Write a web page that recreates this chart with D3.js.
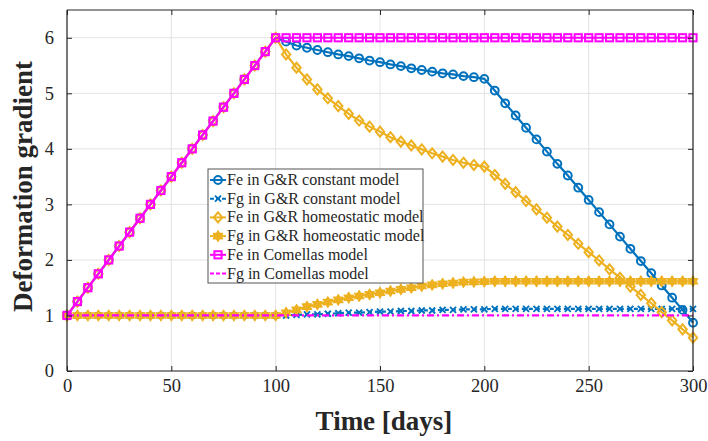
<!DOCTYPE html>
<html><head><meta charset="utf-8">
<script src="https://cdn.jsdelivr.net/npm/d3@7"></script>
<style>body{margin:0;background:#fff}svg{display:block}svg text{font-family:'Liberation Serif','Times New Roman',serif}</style>
</head><body><svg id="c" width="708" height="441"></svg>
<script>
// ---- data ----
const days = [0,5,10,15,20,25,30,35,40,45,50,55,60,65,70,75,80,85,90,95,100,
  105,110,115,120,125,130,135,140,145,150,155,160,165,170,175,180,185,190,195,200,
  205,210,215,220,225,230,235,240,245,250,255,260,265,270,275,280,285,290,295,300];
const ramp = [1,1.25,1.5,1.75,2,2.25,2.5,2.75,3,3.25,3.5,3.75,4,4.25,4.5,4.75,5,5.25,5.5,5.75,6];
const feConstant = ramp.concat([5.93,5.86,5.82,5.78,5.74,5.70,5.67,5.63,5.59,5.56,
  5.52,5.49,5.45,5.42,5.39,5.36,5.34,5.31,5.29,5.26,
  5.05,4.82,4.60,4.38,4.17,3.95,3.73,3.52,3.30,3.08,2.86,2.64,2.42,2.20,1.98,1.76,1.54,1.32,1.10,0.87]);
const fgConstant = [1,1,1,1,1,1,1,1,1,1,1,1,1,1,1,1,1,1,1,1,1,
  1.00,1.01,1.02,1.02,1.03,1.04,1.05,1.05,1.06,1.07,
  1.07,1.08,1.08,1.09,1.09,1.10,1.10,1.11,1.11,1.11,
  1.12,1.12,1.12,1.12,1.12,1.12,1.12,1.12,1.12,1.12,1.12,1.12,1.12,1.12,1.12,1.12,1.12,1.12,1.12,1.12];
const feHomeo = ramp.concat([5.70,5.46,5.25,5.07,4.91,4.77,4.63,4.51,4.40,4.31,
  4.21,4.13,4.06,3.99,3.92,3.86,3.80,3.75,3.71,3.68,
  3.53,3.37,3.22,3.06,2.91,2.76,2.60,2.45,2.29,2.14,1.99,1.83,1.68,1.52,1.37,1.22,1.06,0.91,0.75,0.60]);
const fgHomeo = [1,1,1,1,1,1,1,1,1,1,1,1,1,1,1,1,1,1,1,1,1,
  1.05,1.10,1.16,1.20,1.24,1.28,1.32,1.35,1.38,1.41,
  1.44,1.47,1.50,1.53,1.55,1.57,1.585,1.60,1.605,1.61,
  1.615,1.615,1.615,1.615,1.615,1.615,1.615,1.615,1.615,1.615,1.615,1.615,1.615,1.615,1.615,1.615,1.615,1.615,1.615,1.615];
const feComellas = ramp.concat([6,6,6,6,6,6,6,6,6,6,6,6,6,6,6,6,6,6,6,6,
  6,6,6,6,6,6,6,6,6,6,6,6,6,6,6,6,6,6,6,6]);
const fgComellas = [1,1,1,1,1,1,1,1,1,1,1,1,1,1,1,1,1,1,1,1,1,
  1,1,1,1,1,1,1,1,1,1,1,1,1,1,1,1,1,1,1,1,
  1,1,1,1,1,1,1,1,1,1,1,1,1,1,1,1,1,1,1,1];
const seriesNames = ["Fe in G&R constant model","Fg in G&R constant model","Fe in G&R homeostatic model",
  "Fg in G&R homeostatic model","Fe in Comellas model","Fg in Comellas model"];
const xTicks = [0,50,100,150,200,250,300];
const yTicks = [0,1,2,3,4,5,6];
const xLabel = "Time [days]";
const yLabel = "Deformation gradient";

// ---- styles ----
const BLUE="#0072BD", YEL="#EDB120", MAG="#FF00FF";
const series = [
  {name:seriesNames[0], v:feConstant, color:BLUE, marker:"circle", dash:null},
  {name:seriesNames[1], v:fgConstant, color:BLUE, marker:"x", dash:"4,3"},
  {name:seriesNames[2], v:feHomeo, color:YEL, marker:"diamond", dash:null},
  {name:seriesNames[3], v:fgHomeo, color:YEL, marker:"hexagram", dash:null},
  {name:seriesNames[4], v:feComellas, color:MAG, marker:"square", dash:null},
  {name:seriesNames[5], v:fgComellas, color:MAG, marker:null, dash:"7,3,2,3"}
];

const svg = d3.select("#c");
const FONT = "'Liberation Serif','Times New Roman',serif";
const L=67, R=693, T=10, B=371;
const x = d3.scaleLinear().domain([0,300]).range([L,R]);
const y = d3.scaleLinear().domain([0,6.5]).range([B,T]);

// grid
const grid = svg.append("g");
grid.selectAll("line.gx").data(xTicks).join("line")
  .attr("x1",d=>x(d)).attr("x2",d=>x(d)).attr("y1",T).attr("y2",B)
  .attr("stroke","#e3e3e3").attr("stroke-width",1);
grid.selectAll("line.gy").data(yTicks).join("line")
  .attr("y1",d=>y(d)).attr("y2",d=>y(d)).attr("x1",L).attr("x2",R)
  .attr("stroke","#e3e3e3").attr("stroke-width",1);

// marker path
function hexagram(r){
  const p=(a)=>[r*Math.cos(a*Math.PI/180), r*Math.sin(a*Math.PI/180)];
  const t1=[-90,30,150].map(p), t2=[90,210,330].map(p);
  return "M"+t1.map(q=>q.join(",")).join("L")+"Z M"+t2.map(q=>q.join(",")).join("L")+"Z";
}
function drawMarker(g, type, color){
  if(type==="circle") g.append("circle").attr("r",3.9).attr("fill","none").attr("stroke",color).attr("stroke-width",2);
  else if(type==="square") g.append("rect").attr("x",-3.6).attr("y",-3.6).attr("width",7.2).attr("height",7.2).attr("fill","none").attr("stroke",color).attr("stroke-width",2);
  else if(type==="diamond") g.append("path").attr("d","M0,-5L4.2,0L0,5L-4.2,0Z").attr("fill","none").attr("stroke",color).attr("stroke-width",2);
  else if(type==="hexagram") g.append("path").attr("d",hexagram(5.4)).attr("fill",color).attr("stroke",color).attr("stroke-width",1.2).attr("stroke-linejoin","round");
  else if(type==="x") g.append("path").attr("d","M-3,-3L3,3M-3,3L3,-3").attr("fill","none").attr("stroke",color).attr("stroke-width",1.9);
}

const plot = svg.append("g");
const line = d3.line().x((d,i)=>x(days[i])).y(d=>y(d));
series.forEach(s=>{
  const g = plot.append("g");
  g.append("path").attr("d",line(s.v)).attr("fill","none").attr("stroke",s.color)
    .attr("stroke-width",2.2).attr("stroke-dasharray",s.dash);
  if(s.marker){
    s.v.forEach((v,i)=>{
      const mg = g.append("g").attr("transform",`translate(${x(days[i])},${y(v)})`);
      drawMarker(mg, s.marker, s.color);
    });
  }
});

// axes
const AX="#262626";
const axB = svg.append("g").attr("transform",`translate(0,${B})`)
  .call(d3.axisBottom(x).tickValues(xTicks).tickSize(-5).tickPadding(8).tickFormat(d3.format("d")));
const axL = svg.append("g").attr("transform",`translate(${L},0)`)
  .call(d3.axisLeft(y).tickValues(yTicks).tickSize(-5).tickPadding(13).tickFormat(d3.format("d")));
const axT = svg.append("g").attr("transform",`translate(0,${T})`)
  .call(d3.axisTop(x).tickValues(xTicks).tickSize(-5).tickFormat(""));
const axR = svg.append("g").attr("transform",`translate(${R},0)`)
  .call(d3.axisRight(y).tickValues(yTicks).tickSize(-5).tickFormat(""));
[axB,axL,axT,axR].forEach(a=>{
  a.attr("font-family",FONT).attr("font-size",18.5);
  a.select(".domain").attr("stroke",AX).attr("stroke-width",1.2);
  a.selectAll(".tick line").attr("stroke",AX);
  a.selectAll("text").attr("font-family",FONT).attr("font-size",18.5).attr("fill","#262626");
});
[axB,axT].forEach(a=>a.select(".domain").attr("d",`M${L},0H${R}`));
[axL,axR].forEach(a=>a.select(".domain").attr("d",`M0,${T}V${B}`));

// axis titles
svg.append("text").attr("x",(L+R)/2+4).attr("y",430).attr("text-anchor","middle")
  .attr("font-family",FONT).attr("font-weight","bold").attr("font-size",27).attr("fill","#262626").text(xLabel);
svg.append("text").attr("transform",`translate(32,${(T+B)/2-4}) rotate(-90)`).attr("text-anchor","middle")
  .attr("font-family",FONT).attr("font-weight","bold").attr("font-size",27).attr("fill","#262626").text(yLabel);

// legend
const lg = svg.append("g");
const LX=208, LY=169, LW=215, LH=114;
lg.append("rect").attr("x",LX).attr("y",LY).attr("width",LW).attr("height",LH)
  .attr("fill","#fff").attr("stroke","#555").attr("stroke-width",1);
series.forEach((s,i)=>{
  const cy = 180 + i*18.7;
  lg.append("line").attr("x1",210).attr("x2",226).attr("y1",cy).attr("y2",cy)
    .attr("stroke",s.color).attr("stroke-width",2).attr("stroke-dasharray",s.dash?"4,2":null);
  if(s.marker){ const mg=lg.append("g").attr("transform",`translate(218,${cy})`); drawMarker(mg,s.marker,s.color); }
  lg.append("text").attr("x",227).attr("y",cy+5).attr("font-family",FONT).attr("font-size",16)
    .attr("fill","#262626").text(s.name);
});
</script></body></html>
